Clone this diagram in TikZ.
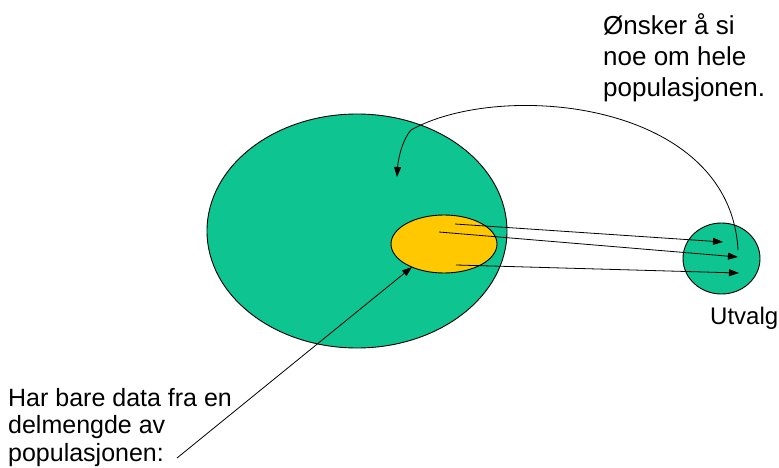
\documentclass[tikz,border=0pt]{standalone}
\usepackage{fontspec}
\setmainfont{Liberation Sans}
\usetikzlibrary{arrows.meta,shapes.geometric}
\definecolor{popgreen}{RGB}{14,196,144}
\definecolor{sampyellow}{RGB}{255,200,0}
\tikzset{
  blob/.style={ellipse,draw=black,line width=0.9pt,inner sep=0pt},
  arr/.style={draw=black,line width=0.8pt,-{Triangle[length=10pt,width=7pt]}},
  lbl/.style={inner sep=0pt,align=left}
}
\begin{document}
\begin{tikzpicture}[x=1pt,y=-1pt]
\useasboundingbox (0,0) rectangle (779,468);
\node[blob,fill=popgreen,minimum width=300pt,minimum height=234pt] (pop) at (357,231) {};
\node[blob,fill=sampyellow,minimum width=106pt,minimum height=58pt] (sub) at (444,244) {};
\node[blob,fill=popgreen,minimum width=77pt,minimum height=71pt] (utv) at (721.5,258.5) {};
\coordinate (s1) at (455,224);
\coordinate (s2) at (439,232);
\coordinate (s3) at (456,265);
\coordinate (t1) at (723,242);
\coordinate (t2) at (738,257);
\coordinate (t3) at (739,273);
\draw[arr] (s1) -- (t1);
\draw[arr] (s2) -- (t2);
\draw[arr] (s3) -- (t3);
\coordinate (c0) at (738,250);
\coordinate (c1) at (411,130);
\coordinate (c2) at (397,177);
\draw[arr] (c0) .. controls (730,100) and (500,80) .. (c1) .. controls (402,140) and (398,160) .. (c2);
\node[lbl,anchor=base west,font=\fontsize{26}{31}\selectfont] (top) at (603,97) {Ønsker å si\\noe om hele\\populasjonen.};
\node[lbl,anchor=base west,font=\fontsize{25}{27.5}\selectfont] (bot) at (8,461) {Har bare data fra en\\delmengde av\\populasjonen:};
\coordinate (b0) at (177,458);
\coordinate (b1) at (412,267);
\draw[arr] (b0) -- (b1);
\node[inner sep=0pt,anchor=base west,font=\fontsize{24}{28}\selectfont] (utvl) at (710,324) {Utvalg};
\end{tikzpicture}
\end{document}
